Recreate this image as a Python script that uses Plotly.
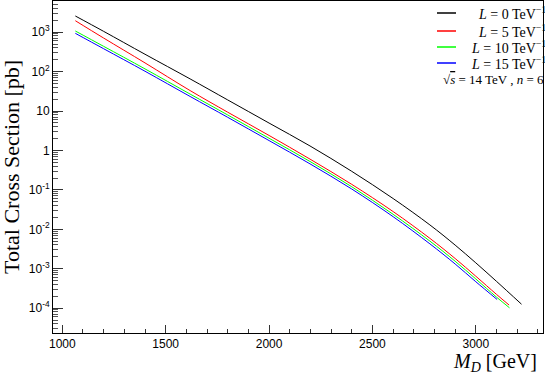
import plotly.graph_objects as go

# M_D [GeV] sample points
md_0 = [1063, 1200, 1400, 1618, 1800, 2000, 2198, 2400, 2600, 2778, 2900, 3000, 3100, 3221]
md_5 = [1063, 1200, 1400, 1618, 1800, 2000, 2198, 2400, 2600, 2778, 2900, 3000, 3100, 3161]
md_10 = [1063, 1200, 1400, 1618, 1800, 2000, 2198, 2400, 2600, 2778, 2900, 3000, 3100, 3163]
md_15 = [1063, 1200, 1400, 1618, 1800, 2000, 2198, 2400, 2600, 2778, 2900, 3000, 3103]

# total cross section [pb]
xs_0 = [2570, 1047, 275, 65.3, 19.1, 4.95, 1.30, 0.295, 0.0603, 0.0129, 3.98e-3, 1.41e-3, 4.79e-4, 1.26e-4]
xs_5 = [1950, 708, 166, 33.0, 9.33, 2.40, 0.603, 0.138, 0.0282, 5.89e-3, 1.82e-3, 6.46e-4, 2.24e-4, 1.20e-4]
xs_10 = [1070, 437, 117, 26.9, 7.94, 2.04, 0.525, 0.120, 0.0240, 5.01e-3, 1.55e-3, 5.50e-4, 1.91e-4, 1.02e-4]
xs_15 = [933, 380, 102, 23.4, 6.92, 1.78, 0.457, 0.105, 0.0209, 4.27e-3, 1.32e-3, 4.68e-4, 1.66e-4]

labels = ["<i>L</i> = 0 TeV<sup>\u22121</sup>", "<i>L</i> = 5 TeV<sup>\u22121</sup>",
          "<i>L</i> = 10 TeV<sup>\u22121</sup>", "<i>L</i> = 15 TeV<sup>\u22121</sup>"]
colors = ["#000000", "#ff0000", "#00ff00", "#0000ff"]
series = list(zip(labels, [md_0, md_5, md_10, md_15], [xs_0, xs_5, xs_10, xs_15], colors))

y_tickvals = [1e-4, 1e-3, 1e-2, 1e-1, 1, 10, 100, 1000]
y_ticktext = ["10<sup>-4</sup>", "10<sup>-3</sup>", "10<sup>-2</sup>", "10<sup>-1</sup>",
              "1", "10", "10<sup>2</sup>", "10<sup>3</sup>"]

serif = "Liberation Serif"
sans = "Liberation Sans"

W, H = 545, 373
L, R, T, B = 53, 2, 1, 40
pw, ph = W - L - R, H - T - B


def px_x(x):
    return (x - L) / pw


def px_y(y):
    return 1 - (y - T) / ph


fig = go.Figure()
for name, x, y, col in series:
    fig.add_trace(go.Scatter(x=x, y=y, mode="lines", name=name, showlegend=False,
                             line=dict(color=col, width=1, shape="spline")))

# hand-placed legend, like the ROOT one
legend_y = [13, 31, 47, 63]
for (name, _, _, col), ly in zip(series, legend_y):
    fig.add_shape(type="line", xref="paper", yref="paper",
                  x0=px_x(437), x1=px_x(456), y0=px_y(ly), y1=px_y(ly),
                  line=dict(color=col, width=1.5))
    fig.add_annotation(xref="paper", yref="paper", x=px_x(548), y=px_y(ly),
                       xanchor="right", yanchor="middle", text=name, showarrow=False,
                       font=dict(family=serif, size=14, color="black"))

fig.add_annotation(xref="paper", yref="paper", x=px_x(546), y=px_y(79), xanchor="right", yanchor="middle",
                   text="\u221a<span style='text-decoration:overline'><i>s</i></span> = 14 TeV , <i>n</i> = 6",
                   showarrow=False, font=dict(family=serif, size=13, color="black"))

# axis titles
fig.add_annotation(xref="paper", yref="paper", x=px_x(539), y=px_y(362), xanchor="right", yanchor="middle",
                   text="<i>M</i><sub><i>D</i></sub> [GeV]", showarrow=False,
                   font=dict(family=serif, size=20, color="black"))
fig.add_annotation(xref="paper", yref="paper", x=px_x(11), y=px_y(167), xanchor="center", yanchor="middle",
                   text="Total Cross Section [pb]", textangle=-90, showarrow=False,
                   font=dict(family=serif, size=22, color="black"))

fig.update_layout(
    width=W, height=H,
    margin=dict(l=L, r=R, t=T, b=B),
    plot_bgcolor="white", paper_bgcolor="white",
    showlegend=False,
    xaxis=dict(range=[955, 3325], showgrid=False, zeroline=False, automargin=False,
               showline=True, linecolor="black", linewidth=1, mirror=True,
               ticks="inside", ticklen=8, tickcolor="#333", dtick=500, tick0=0,
               minor=dict(ticks="inside", ticklen=4, dtick=100, tickcolor="#333"),
               tickfont=dict(family=sans, size=12, color="black")),
    yaxis=dict(type="log", range=[-4.63, 3.79], showgrid=False, zeroline=False, automargin=False,
               showline=True, linecolor="black", linewidth=1, mirror=True,
               ticks="inside", ticklen=10, tickcolor="#333",
               tickvals=y_tickvals, ticktext=y_ticktext,
               minor=dict(ticks="inside", ticklen=5, dtick="D1", tickcolor="#555"),
               tickfont=dict(family=sans, size=12, color="black")),
)

# the page's default body margin would push the figure 8px off the window
fig.write_html("out.html", config={"displayModeBar": False},
               post_script="document.body.style.margin='0';")
